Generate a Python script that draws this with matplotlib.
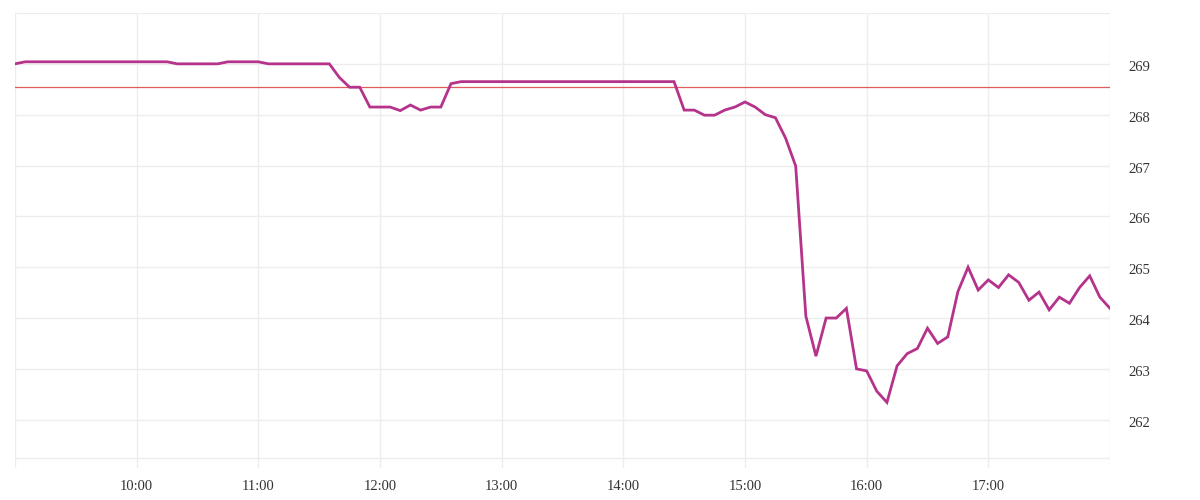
import matplotlib
matplotlib.use("Agg")
import matplotlib.pyplot as plt
import matplotlib.dates as mdates
import matplotlib.transforms as mtrans
import pandas as pd

# 5-minute samples, 09:00 - 18:00
times = pd.date_range("2024-01-02 09:00", "2024-01-02 18:00", freq="5min")

prices = [
    269.00, 269.04, 269.04, 269.04, 269.04, 269.04, 269.04, 269.04,
    269.04, 269.04, 269.04, 269.04, 269.04, 269.04, 269.04, 269.04,
    269.00, 269.00, 269.00, 269.00, 269.00,
    269.04, 269.04, 269.04, 269.04,
    269.00, 269.00, 269.00, 269.00, 269.00, 269.00, 269.00,
    268.73, 268.54, 268.54, 268.15, 268.15, 268.15, 268.08, 268.19,
    268.09, 268.15, 268.15, 268.61,
    268.65, 268.65, 268.65, 268.65, 268.65, 268.65, 268.65, 268.65,
    268.65, 268.65, 268.65, 268.65, 268.65, 268.65, 268.65, 268.65,
    268.65, 268.65, 268.65, 268.65, 268.65, 268.65,
    268.09, 268.09, 267.99, 267.99, 268.09, 268.15, 268.25, 268.15,
    268.00, 267.94, 267.54, 266.99, 264.04, 263.25, 264.00, 264.00,
    264.19, 263.00, 262.96, 262.56, 262.34, 263.06, 263.30, 263.40,
    263.80, 263.50, 263.63, 264.52, 265.00, 264.55, 264.75, 264.60,
    264.85, 264.70, 264.35, 264.51, 264.16, 264.41, 264.29, 264.60,
    264.83, 264.41, 264.19,
]

prev_close = 268.54
y_ticks = [262, 263, 264, 265, 266, 267, 268, 269]

grid_col = "#ededed"
text_col = "#333333"

fig = plt.figure(figsize=(12, 5), dpi=100)
ax = fig.add_axes([15 / 1200, 32 / 500, 1095 / 1200, 455 / 500])

ax.set_xlim(times[0], times[-1])
ax.set_ylim(261.05, 270.0)

for y in y_ticks + [270, 261.24]:
    ax.axhline(y, color=grid_col, lw=1, zorder=0)
for t in pd.date_range(times[0], times[-1], freq="1h"):
    ax.axvline(t, color=grid_col, lw=1, zorder=0)

ax.plot(times, prices, color="#b5338b", lw=2.0, zorder=3, solid_joinstyle="miter")
ax.axhline(prev_close, color="#e05c5c", lw=0.9, zorder=2)

for s in ax.spines.values():
    s.set_visible(False)

ax.xaxis.set_major_locator(mdates.HourLocator(byhour=range(10, 18)))
ax.xaxis.set_major_formatter(mdates.DateFormatter("%H:%M"))
ax.yaxis.tick_right()
ax.set_yticks(y_ticks)
ax.set_yticklabels([str(v) for v in y_ticks])
ax.tick_params(axis="both", length=0, colors=text_col, labelsize=10.5)
ax.tick_params(axis="x", pad=9)
ax.tick_params(axis="y", pad=13)
shift = mtrans.ScaledTranslation(0, -2 / 100, fig.dpi_scale_trans)
for lbl in ax.get_yticklabels():
    lbl.set_transform(lbl.get_transform() + shift)
for lbl in ax.get_xticklabels() + ax.get_yticklabels():
    lbl.set_family("Liberation Serif")

fig.savefig("out.png", dpi=100, facecolor="white")
